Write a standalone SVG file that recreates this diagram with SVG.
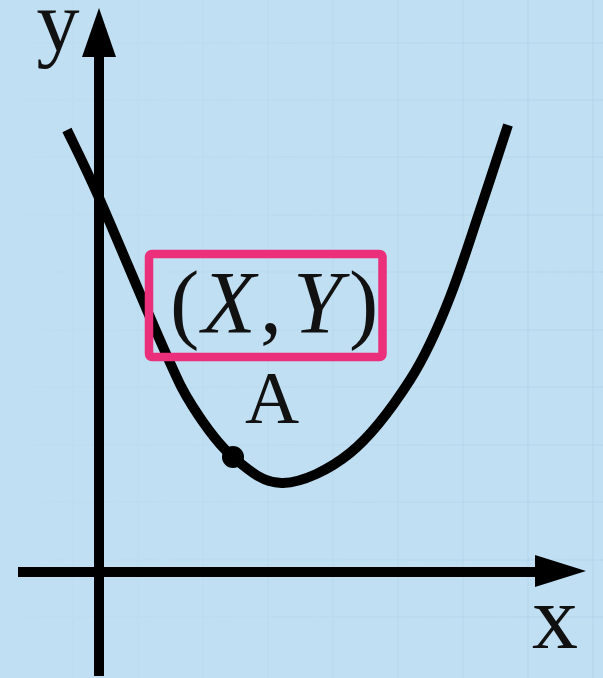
<svg xmlns="http://www.w3.org/2000/svg" width="603" height="678" viewBox="0 0 603 678">
  <style>
    .grid line { stroke: #a8cde6; stroke-width: 2; opacity: 0.3; }
    .axis { stroke: #000; stroke-width: 10; fill: none; }
    .head { fill: #000; }
    .curve { stroke: #000; stroke-width: 10; fill: none; stroke-linejoin: round; }
    .lbl { font-family: "Liberation Serif", "Times New Roman", serif; fill: #111; }
    .box { fill: none; stroke: #ec2f7b; stroke-width: 8.5; }
  </style>
  <defs>
    <linearGradient id="fade" x1="0" y1="0" x2="1" y2="0">
      <stop offset="0" stop-color="#fff" stop-opacity="0.1"/>
      <stop offset="0.5" stop-color="#fff" stop-opacity="0.5"/>
      <stop offset="1" stop-color="#fff" stop-opacity="1"/>
    </linearGradient>
    <mask id="gridmask">
      <rect x="0" y="0" width="603" height="678" fill="url(#fade)"/>
    </mask>
  </defs>
  <rect x="0" y="0" width="603" height="678" fill="#c0dff2"/>
  <g class="grid" mask="url(#gridmask)">
    <line x1="73" y1="0" x2="73" y2="678"/>
    <line x1="138" y1="0" x2="138" y2="678"/>
    <line x1="203" y1="0" x2="203" y2="678"/>
    <line x1="268" y1="0" x2="268" y2="678"/>
    <line x1="333" y1="0" x2="333" y2="678"/>
    <line x1="398" y1="0" x2="398" y2="678"/>
    <line x1="463" y1="0" x2="463" y2="678"/>
    <line x1="528" y1="0" x2="528" y2="678"/>
    <line x1="593" y1="0" x2="593" y2="678"/>
    <line x1="0" y1="43" x2="603" y2="43"/>
    <line x1="0" y1="100" x2="603" y2="100"/>
    <line x1="0" y1="157" x2="603" y2="157"/>
    <line x1="0" y1="215" x2="603" y2="215"/>
    <line x1="0" y1="272" x2="603" y2="272"/>
    <line x1="0" y1="330" x2="603" y2="330"/>
    <line x1="0" y1="387" x2="603" y2="387"/>
    <line x1="0" y1="445" x2="603" y2="445"/>
    <line x1="0" y1="502" x2="603" y2="502"/>
    <line x1="0" y1="560" x2="603" y2="560"/>
    <line x1="0" y1="617" x2="603" y2="617"/>
  </g>
  <g id="axes">
    <line class="axis" x1="99" y1="676" x2="99" y2="50"/>
    <polygon class="head" points="99,8 82,57 116,57"/>
    <line class="axis" x1="18" y1="572" x2="540" y2="572"/>
    <polygon class="head" points="586,571 535,555 535,587"/>
    <text class="lbl" x="58" y="50" font-size="86" text-anchor="middle">y</text>
    <text class="lbl" x="555" y="648" font-size="92" text-anchor="middle">x</text>
  </g>
  <g id="curve">
    <path class="curve" d="M67,130 C72.5,141.7 84,163.8 100,200 C116,236.2 147.5,312.5 163,347 C178.5,381.5 181.3,388.7 193,407 C204.7,425.3 218,444.3 233,457 C248,469.7 263.5,483.7 283,483 C302.5,482.3 328.8,470.2 350,453 C371.2,435.8 393.3,406 410,380 C426.7,354 439,325.3 450,297 C461.7,267 470.3,238.7 480,210 C489.7,181.3 503.3,139.2 508,125"/>
  </g>
  <g id="pointA">
    <circle cx="233" cy="457" r="11" fill="#000"/>
    <text class="lbl" x="272" y="423" font-size="75" text-anchor="middle">A</text>
  </g>
  <g id="label">
    <rect class="box" x="149" y="254" width="233.5" height="103" rx="3"/>
    <text class="lbl" y="332" font-size="88"><tspan x="170">(</tspan><tspan x="202" font-style="italic">X</tspan><tspan x="260">,</tspan><tspan x="293" font-style="italic">Y</tspan><tspan x="349">)</tspan></text>
  </g>
</svg>
